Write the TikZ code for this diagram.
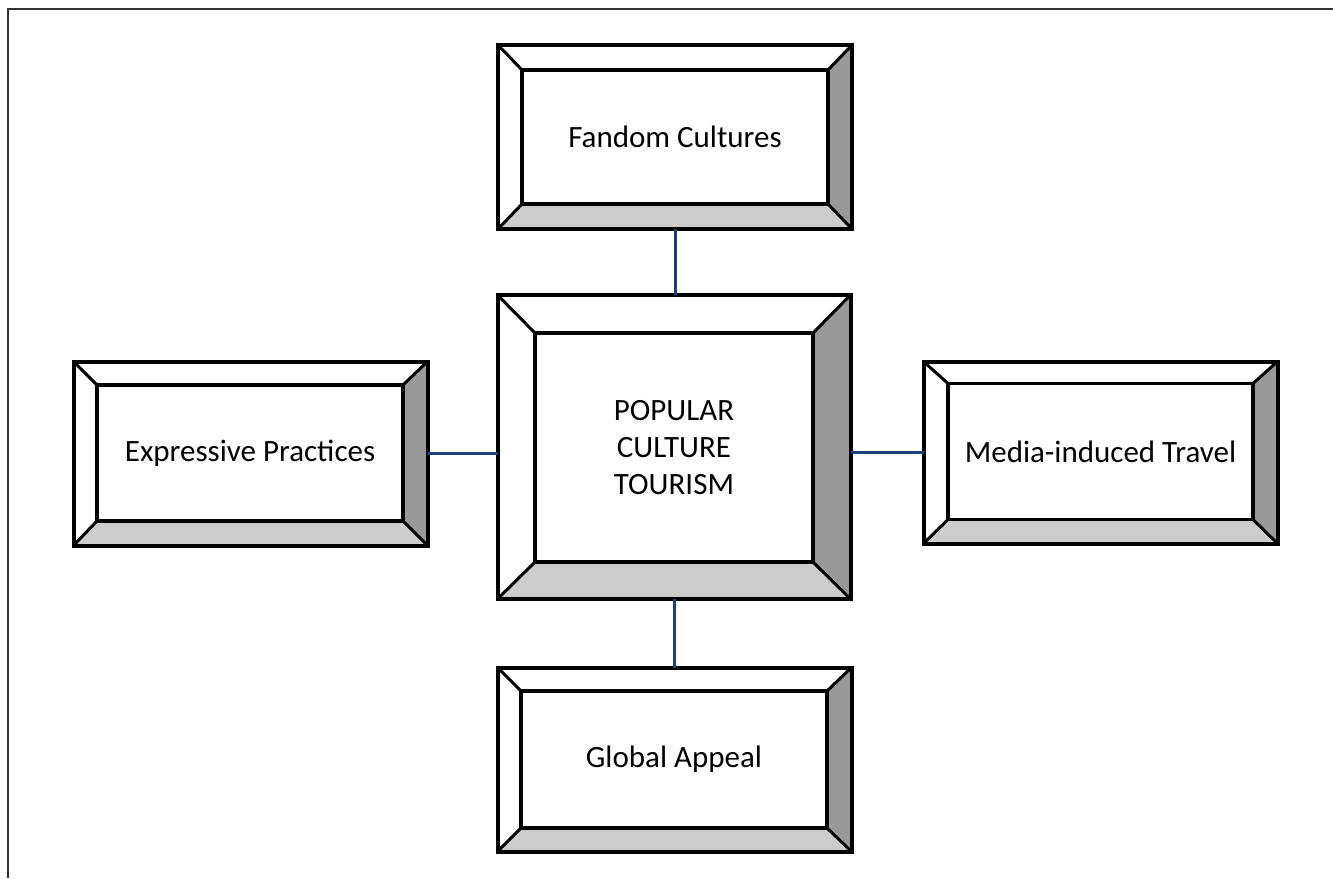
\documentclass[tikz,border=0pt]{standalone}
\usepackage{fontspec}
\setmainfont{Carlito}
\usetikzlibrary{backgrounds}
\definecolor{linkblue}{HTML}{1F3F78}
\tikzset{
  outerbox/.style={draw,line width=4pt,inner sep=0pt,outer sep=0pt,minimum width=354,minimum height=184},
  innerbox/.style={draw,line width=3.5pt,inner sep=0pt,outer sep=0pt,minimum width=306,minimum height=136,
    align=center,font=\fontsize{31}{37}\selectfont},
  bevel/.style={line width=3pt},
  link/.style={linkblue,line width=3pt},
}
\begin{document}
\begin{tikzpicture}[x=1pt,y=-1pt]
  \useasboundingbox (0,0) rectangle (1333,878);
  \draw[line width=2pt,black!80] (8,878) -- (8,9) -- (1333,9);

  % centre box
  \node[outerbox,minimum width=353,minimum height=304] (pct) at (674,447) {};
  \node[innerbox,minimum width=278,minimum height=229] (pct-in) at (674,447.5) {POPULAR\\CULTURE\\TOURISM};

  % the four around it
  \node[outerbox] (fandom) at (675,137) {};
  \node[innerbox,minimum height=134] (fandom-in) at (675,137) {Fandom Cultures};
  \node[outerbox] (express) at (250.5,453.5) {};
  \node[innerbox] (express-in) at (250,453) {Expressive Practices};
  \node[outerbox,minimum height=182] (media) at (1100.5,452.5) {};
  \node[innerbox,minimum width=305] (media-in) at (1100.5,451.5) {Media-induced Travel};
  \node[outerbox] (global) at (674.5,759.5) {};
  \node[innerbox,minimum height=137] (global-in) at (674,759.5) {Global Appeal};

  \foreach \b in {pct,fandom,express,media,global} {
    \begin{pgfonlayer}{background}
      \fill[black!40] (\b.north east) -- (\b.south east) -- (\b-in.south east) -- (\b-in.north east) -- cycle;
      \fill[black!20] (\b.south west) -- (\b.south east) -- (\b-in.south east) -- (\b-in.south west) -- cycle;
    \end{pgfonlayer}
    \foreach \c in {north east,north west,south east,south west}
      \draw[bevel] (\b.\c) -- (\b-in.\c);
  }

  \draw[link] (fandom.south) -- (fandom.south |- pct.north);
  \draw[link] (global.north) -- (global.north |- pct.south);
  \draw[link] (express.east) -- (express.east -| pct.west);
  \draw[link] (media.west) -- (media.west -| pct.east);
\end{tikzpicture}
\end{document}
